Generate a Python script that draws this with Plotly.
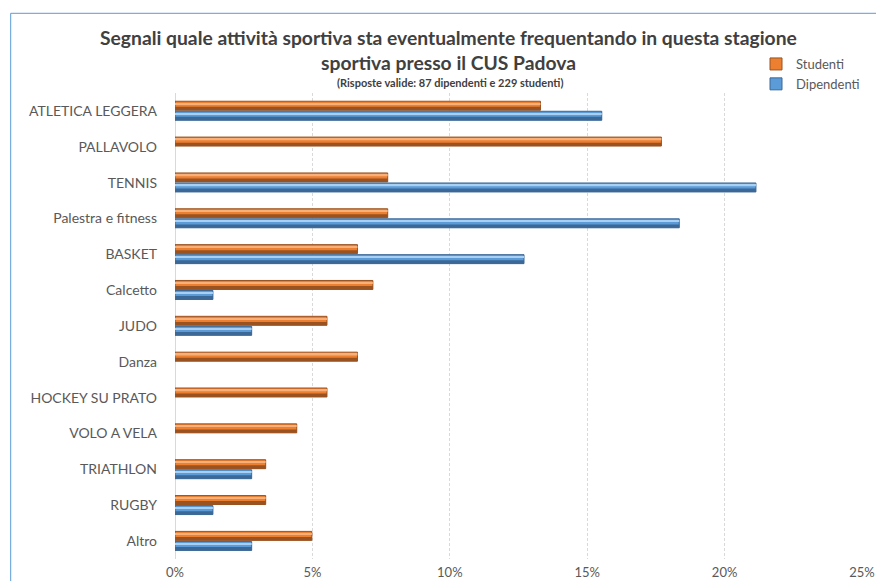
import plotly.graph_objects as go

categories = ["ATLETICA LEGGERA", "PALLAVOLO", "TENNIS", "Palestra e fitness", "BASKET",
              "Calcetto", "JUDO", "Danza", "HOCKEY SU PRATO", "VOLO A VELA",
              "TRIATHLON", "RUGBY", "Altro"]
studenti = [13.3, 17.7, 7.74, 7.74, 6.64, 7.2, 5.53, 6.64, 5.53, 4.43, 3.3, 3.3, 4.98]
dipendenti = [15.53, 0, 21.14, 18.35, 12.7, 1.38, 2.79, 0, 0, 0, 2.79, 1.38, 2.79]
x_ticks = [0, 5, 10, 15, 20, 25]

FONT = "Lato, sans-serif"

series = [
    ("Studenti", studenti, -0.27, ("#9A5220", "#EC7F30", "#F8B07A")),
    ("Dipendenti", dipendenti, 0.01, ("#3B6896", "#5A9BD8", "#A9D0F3")),
]

fig = go.Figure()
W = 0.25
for name, vals, off, (dark, mid, light) in series:
    xs = [v if v else None for v in vals]
    fig.add_trace(go.Bar(y=categories, x=xs, orientation="h", name=name,
                         offset=off, width=W, marker=dict(color=mid, line=dict(color=dark, width=1)),
                         showlegend=True, legendgroup=name, hoverinfo="skip"))
    fig.add_trace(go.Bar(y=categories, x=xs, orientation="h", name=name,
                         offset=off + W * 0.62, width=W * 0.38, marker=dict(color=dark, line=dict(width=0)),
                         showlegend=False, legendgroup=name, hoverinfo="skip"))
    fig.add_trace(go.Bar(y=categories, x=xs, orientation="h", name=name,
                         offset=off + W * 0.2, width=W * 0.16, marker=dict(color=light, line=dict(width=0)),
                         showlegend=False, legendgroup=name, hoverinfo="skip"))

pl, pr, pt, pb = 175, 14, 93, 22
pw, ph = 876 - pl - pr, 581 - pt - pb
def px(x):
    return (x - pl) / pw
def py(y):
    return (pt + ph - y) / ph

fig.update_layout(
    width=876, height=581,
    margin=dict(l=pl, r=pr, t=pt, b=pb, autoexpand=False),
    paper_bgcolor="white", plot_bgcolor="white",
    barmode="overlay",
    font=dict(family=FONT, color="#595959"),
    showlegend=True,
    legend=dict(x=px(756), y=py(49), xanchor="left", yanchor="top", bgcolor="rgba(0,0,0,0)",
                font=dict(size=13, color="#595959", family=FONT), tracegroupgap=0,
                itemwidth=30),
    xaxis=dict(range=[0, 25], tickvals=x_ticks, ticktext=[f"{v}%" for v in x_ticks],
               showgrid=True, gridcolor="#D9D9D9", griddash="3px,2px", gridwidth=1,
               zeroline=True, zerolinecolor="#D9D9D9", zerolinewidth=1,
               showline=False, ticks="", tickfont=dict(size=13, color="#595959"),
               ticklabelstandoff=4, automargin=False),
    yaxis=dict(autorange="reversed", showgrid=False, ticks="", showline=False,
               tickfont=dict(size=14, color="#595959"), ticklabelstandoff=17,
               automargin=False),
)

fig.add_annotation(text="<b>Segnali quale attività sportiva sta eventualmente frequentando in questa stagione</b>",
                   x=px(448), y=py(38), xref="paper", yref="paper", showarrow=False,
                   xanchor="center", yanchor="middle",
                   font=dict(size=19.3, color="#404040", family=FONT))
fig.add_annotation(text="<b>sportiva presso il CUS Padova</b>",
                   x=px(448), y=py(62), xref="paper", yref="paper", showarrow=False,
                   xanchor="center", yanchor="middle",
                   font=dict(size=19.3, color="#404040", family=FONT))
fig.add_annotation(text="<b>(Risposte valide: 87 dipendenti e 229 studenti)</b>",
                   x=px(450), y=py(82), xref="paper", yref="paper", showarrow=False,
                   xanchor="center", yanchor="middle",
                   font=dict(size=11, color="#404040", family=FONT))

fig.add_shape(type="line", xref="paper", yref="paper", x0=px(10.7), x1=px(10.7), y0=py(13.3), y1=py(600),
              line=dict(color="#5B9BD5", width=1))
fig.add_shape(type="line", xref="paper", yref="paper", x0=px(10.7), x1=px(900), y0=py(13.3), y1=py(13.3),
              line=dict(color="#5B9BD5", width=1))

fig.write_html("out.html", config={"displayModeBar": False},
               post_script="document.body.style.margin='0';document.body.style.padding='0';")
